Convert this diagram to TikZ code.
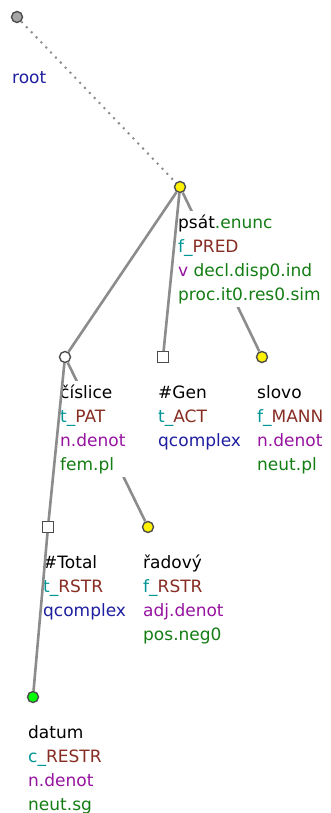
\documentclass[tikz,border=0pt]{standalone}
\usepackage{fontspec}
\setmainfont{DejaVu Sans}
\usepackage{tikz}
\definecolor{fgreen}{RGB}{20,125,20}
\definecolor{fteal}{RGB}{0,150,150}
\definecolor{fbrown}{RGB}{135,45,35}
\definecolor{fpurple}{RGB}{150,20,160}
\definecolor{fblue}{RGB}{30,30,160}
\tikzset{
  tnode/.style={draw=black!70,circle,line width=1.4pt,inner sep=0pt,minimum size=11pt},
  gnode/.style={draw=black!70,rectangle,line width=1.4pt,inner sep=0pt,minimum size=10.5pt,fill=white},
  tedge/.style={draw=black!45,line width=2.6pt},
  lbl/.style={anchor=north west,fill=white,inner sep=0pt,align=left,font=\fontsize{17}{24}\selectfont}
}

\begin{document}
\begin{tikzpicture}[x=1pt,y=-1pt]
  \useasboundingbox (0,0) rectangle (330,813);
  % tree nodes
  \node[tnode,fill=black!35] (root) at (17,17) {};
  \node[tnode,fill=yellow] (psat) at (180,187) {};
  \node[tnode,fill=white] (cislice) at (65,357) {};
  \node[gnode] (gen) at (163,357) {};
  \node[tnode,fill=yellow] (slovo) at (262,357) {};
  \node[gnode] (total) at (48,527) {};
  \node[tnode,fill=yellow] (radovy) at (148,527) {};
  \node[tnode,fill=green] (datum) at (33,697) {};
  % edges running under the labels
  \draw[tedge] (psat) -- (slovo);
  \draw[tedge] (cislice) -- (radovy);
  % labels
  \node[lbl] (root-l) at ([shift={(-5,50)}]root.center) {\strut\textcolor{fblue}{root}};
  \node[lbl] (psat-l) at ([shift={(-2,24)}]psat.center) {\strut psát\textcolor{fgreen}{.enunc}\\
    \textcolor{fteal}{f\_}\textcolor{fbrown}{PRED}\\
    \textcolor{fpurple}{v} \textcolor{fgreen}{decl.disp0.ind}\\
    \textcolor{fgreen}{proc.it0.res0.sim}\strut};
  \node[lbl] (cislice-l) at ([shift={(-5,24)}]cislice.center) {\strut číslice\\
    \textcolor{fteal}{t\_}\textcolor{fbrown}{PAT}\\
    \textcolor{fpurple}{n.denot}\\
    \textcolor{fgreen}{fem.pl}\strut};
  \node[lbl] (gen-l) at ([shift={(-5,24)}]gen.center) {\strut\#Gen\\
    \textcolor{fteal}{t\_}\textcolor{fbrown}{ACT}\\
    \textcolor{fblue}{qcomplex}\strut};
  \node[lbl] (slovo-l) at ([shift={(-5,24)}]slovo.center) {\strut slovo\\
    \textcolor{fteal}{f\_}\textcolor{fbrown}{MANN}\\
    \textcolor{fpurple}{n.denot}\\
    \textcolor{fgreen}{neut.pl}\strut};
  \node[lbl] (total-l) at ([shift={(-5,24)}]total.center) {\strut\#Total\\
    \textcolor{fteal}{t\_}\textcolor{fbrown}{RSTR}\\
    \textcolor{fblue}{qcomplex}\strut};
  \node[lbl] (radovy-l) at ([shift={(-5,24)}]radovy.center) {\strut řadový\\
    \textcolor{fteal}{f\_}\textcolor{fbrown}{RSTR}\\
    \textcolor{fpurple}{adj.denot}\\
    \textcolor{fgreen}{pos.neg0}\strut};
  \node[lbl] (datum-l) at ([shift={(-5,24)}]datum.center) {\strut datum\\
    \textcolor{fteal}{c\_}\textcolor{fbrown}{RESTR}\\
    \textcolor{fpurple}{n.denot}\\
    \textcolor{fgreen}{neut.sg}\strut};
  % edges along the left of the labels
  \draw[black!45,line width=2pt,dash pattern=on 2pt off 5pt] (root) -- (psat);
  \draw[tedge] (psat) -- (cislice);
  \draw[tedge] (psat) -- (gen);
  \draw[tedge] (cislice) -- (total);
  \draw[tedge] (total) -- (datum);
\end{tikzpicture}
\end{document}
